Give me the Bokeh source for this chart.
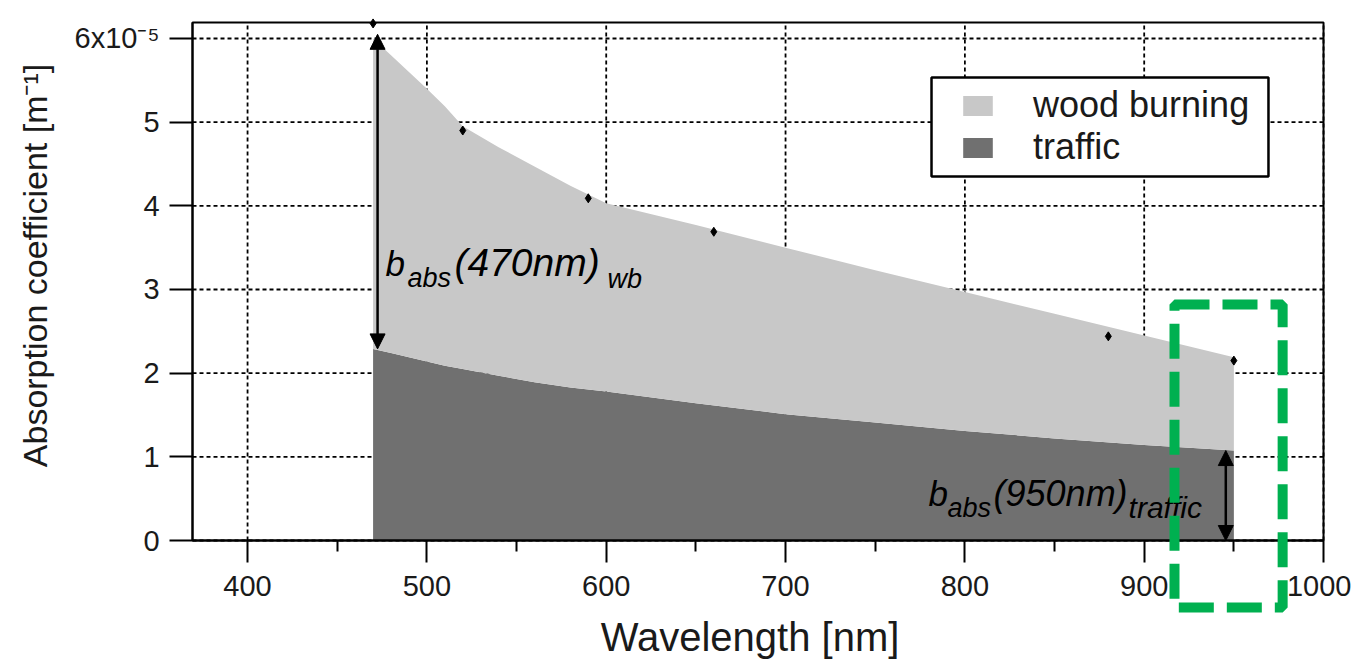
import math
from bokeh.plotting import figure
from bokeh.models import (ColumnDataSource, Range1d, FixedTicker, Legend, LegendItem,
                          BoxAnnotation, Arrow, NormalHead, Label)
from bokeh.embed import file_html
from bokeh.resources import INLINE

# ---- data (absorption coefficient in units of 1e-5 m^-1) ----
wavelength = [470, 480, 490, 500, 510, 520, 540, 560, 580, 600, 650, 700, 750, 800, 850, 900, 950]
traffic = [2.29, 2.24, 2.19, 2.14, 2.09, 2.05, 1.97, 1.89, 1.83, 1.78, 1.64, 1.51, 1.41, 1.31, 1.22, 1.14, 1.075]
wood_burning = [3.71, 3.56, 3.41, 3.26, 3.10, 2.90, 2.73, 2.58, 2.41, 2.25, 2.13, 1.99, 1.82, 1.66, 1.49, 1.31, 1.115]
meas_wavelength = [470, 520, 590, 660, 880, 950]
meas_total = [6.18, 4.90, 4.09, 3.69, 2.44, 2.15]
x_ticks = [400, 500, 600, 700, 800, 900, 1000]
x_minor_ticks = [450, 550, 650, 750, 850, 950]
y_ticks = [0, 1, 2, 3, 4, 5, 6]
y_tick_labels = ["0", "1", "2", "3", "4", "5", "6x10\u207b\u2075"]
series_names = ["wood burning", "traffic"]

FONT = "Liberation Sans"

# plotting box (data) and the full canvas extent around it
X_LO, X_HI, Y_LO, Y_HI = 369.3, 1000.0, 0.0, 6.19
p = figure(width=1351, height=664,
           x_range=Range1d(262.23, 1015.6), y_range=Range1d(-1.482, 6.454),
           output_backend="svg", toolbar_location=None,
           min_border_left=0, min_border_right=0, min_border_top=0, min_border_bottom=0,
           background_fill_color="white", border_fill_color="white")
p.outline_line_color = None
p.xgrid.visible = False
p.ygrid.visible = False

# dashed grid lines restricted to the plotting box
grid_kw = dict(line_color="black", line_dash="4 3", line_width=1.8)
p.segment(x0=x_ticks, y0=[Y_LO] * len(x_ticks), x1=x_ticks, y1=[Y_HI] * len(x_ticks), **grid_kw)
p.segment(x0=[X_LO] * len(y_ticks), y0=y_ticks, x1=[X_HI] * len(y_ticks), y1=y_ticks, **grid_kw)

# axes fixed at the plotting box edges
p.xaxis.fixed_location = Y_LO
p.xaxis.bounds = (X_LO, X_HI)
p.yaxis.fixed_location = X_LO
p.yaxis.bounds = (Y_LO, Y_HI)
p.xaxis.ticker = FixedTicker(ticks=x_ticks, minor_ticks=x_minor_ticks)
p.yaxis.ticker = FixedTicker(ticks=y_ticks)
p.yaxis.major_label_overrides = {t: l for t, l in zip(y_ticks, y_tick_labels)}
for ax in (p.xaxis, p.yaxis):
    ax.axis_line_color = "black"
    ax.axis_line_width = 2
    ax.major_tick_line_color = "black"
    ax.major_tick_line_width = 2
    ax.major_tick_in = 0
    ax.major_label_text_font = FONT
    ax.major_label_text_font_size = "29px"
    ax.major_label_text_color = "#1a1a1a"
p.xaxis.major_tick_out = 22
p.xaxis.minor_tick_out = 11
p.xaxis.minor_tick_in = 0
p.xaxis.minor_tick_line_color = "black"
p.xaxis.minor_tick_line_width = 2
p.xaxis.major_label_standoff = 13
p.yaxis.major_tick_out = 23
p.yaxis.minor_tick_line_color = None
p.yaxis.major_label_standoff = 10

# axis titles
p.add_layout(Label(x=680.2, y=-1.157, text="Wavelength [nm]", text_font=FONT,
                   text_font_size="40px", text_color="#1a1a1a", text_align="center",
                   text_baseline="alphabetic"))
p.add_layout(Label(x=281.5, y=3.287, text="Absorption coefficient [m\u207b\u00b9]", text_font=FONT,
                   text_font_size="34px", text_color="#1a1a1a", text_align="center",
                   text_baseline="alphabetic", angle=math.pi / 2))

# stacked areas
src = ColumnDataSource(dict(wavelength=wavelength, traffic=traffic, wood_burning=wood_burning))
rs = p.varea_stack(stackers=["traffic", "wood_burning"], x="wavelength",
                   fill_color=["#707070", "#c8c8c8"], source=src)

# measured points
p.scatter(meas_wavelength, meas_total, marker="diamond", size=9, color="black")

# box outline (top and right sides; left/bottom are the axes)
p.add_layout(BoxAnnotation(left=X_LO, right=X_HI, bottom=Y_LO, top=Y_HI, fill_alpha=0,
                           line_color="black", line_alpha=1, line_width=2))

# arrows
p.add_layout(Arrow(start=NormalHead(size=15, fill_color="black", line_color="black"),
                   end=NormalHead(size=15, fill_color="black", line_color="black"),
                   x_start=wavelength[0] + 2.5, y_start=traffic[0],
                   x_end=wavelength[0] + 2.5, y_end=traffic[0] + wood_burning[0] + 0.05,
                   line_width=2.5, line_color="black"))
p.add_layout(Arrow(start=NormalHead(size=15, fill_color="black", line_color="black"),
                   end=NormalHead(size=15, fill_color="black", line_color="black"),
                   x_start=wavelength[-1] - 4.5, y_start=0,
                   x_end=wavelength[-1] - 4.5, y_end=traffic[-1],
                   line_width=2.5, line_color="black"))

# annotation texts
def lab(x, y, text, size):
    p.add_layout(Label(x=x, y=y, text=text, text_font=FONT, text_font_style="italic",
                       text_font_size=size, text_color="black", text_baseline="alphabetic"))

lab(476.9, 3.307, "b", "35px")
lab(489.2, 3.141, "abs", "27px")
lab(515.4, 3.320, "(470nm)", "39px")
lab(600.7, 3.131, "wb", "27px")
lab(779.7, 0.559, "b", "35px")
lab(790.3, 0.390, "abs", "27px")
lab(816.0, 0.563, "(950nm)", "36px")
lab(891.3, 0.399, "traffic", "30px")

# legend frame
p.add_layout(BoxAnnotation(left=781.4, right=969.3, top=5.534, bottom=4.350,
                           fill_color="white", fill_alpha=1, line_color="black",
                           line_alpha=1, line_width=2.5))
legend = Legend(items=[LegendItem(label=series_names[0], renderers=[rs[1]]),
                       LegendItem(label=series_names[1], renderers=[rs[0]])],
                location=(959, 496), glyph_width=37, glyph_height=25, label_standoff=37,
                label_height=42, spacing=0, padding=0, margin=0,
                border_line_alpha=0, background_fill_alpha=0,
                label_text_font=FONT, label_text_font_size="36px", label_text_color="#1a1a1a")
p.add_layout(legend)

# green dashed highlight box
p.add_layout(BoxAnnotation(left=916.9, right=977.2, top=2.821, bottom=-0.801,
                           fill_alpha=0, line_color="#00b050", line_alpha=1,
                           line_width=10, line_dash="35 13"))

open("out.html", "w").write(file_html(p, INLINE))
